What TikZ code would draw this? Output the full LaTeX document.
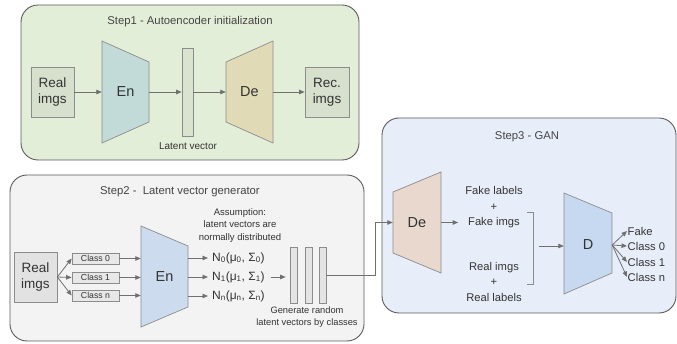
\documentclass[tikz,border=0pt]{standalone}
\usepackage{fontspec}
\setmainfont{Liberation Sans}
\usetikzlibrary{arrows.meta,calc}
\definecolor{txt}{HTML}{333333}
\definecolor{ttl}{HTML}{444444}
\definecolor{arrc}{HTML}{707070}
\definecolor{boxc}{HTML}{8C8C8C}
\definecolor{stagec}{HTML}{5A5A5A}
\definecolor{sonec}{HTML}{E3EED9}
\definecolor{stwoc}{HTML}{F3F3F3}
\definecolor{sthreec}{HTML}{E8EEF9}
\definecolor{greenbox}{HTML}{D6E0CD}
\definecolor{enonec}{HTML}{C2DBD8}
\definecolor{deonec}{HTML}{E0DBB6}
\definecolor{latc}{HTML}{D9E3D0}
\definecolor{greybox}{HTML}{E2E2E2}
\definecolor{classc}{HTML}{E8E8E8}
\definecolor{entwoc}{HTML}{CCDCEE}
\definecolor{barc}{HTML}{E4E4E4}
\definecolor{dethreec}{HTML}{E8D8CD}
\definecolor{dc}{HTML}{C6D9F0}
\begin{document}
\begin{tikzpicture}[x=1pt,y=-1pt,
  arr/.style={draw=arrc, line width=0.8pt, -{Triangle[length=5.5pt,width=4.5pt]}},
  box/.style={draw=boxc, line width=0.7pt, inner sep=0pt, align=center, text=txt},
  stage/.style={draw=stagec, line width=0.9pt, rounded corners=17pt},
  trap/.style={draw=boxc, line width=0.7pt},
  lbl/.style={inner sep=0pt, text=txt, align=center},
  ttlstyle/.style={inner sep=0pt, text=ttl, font=\fontsize{11.3}{13.5}\selectfont},
  big/.style={font=\fontsize{13.5}{16}\selectfont},
  huge/.style={font=\fontsize{14.5}{17}\selectfont},
  mid/.style={font=\fontsize{11.2}{15.5}\selectfont},
  small/.style={font=\fontsize{9.5}{12.5}\selectfont}]
\useasboundingbox (0,0) rectangle (677,344);

% ---------------- Step 1 ----------------
\draw[stage, fill=sonec] (21,5) rectangle (359,160);
\node[ttlstyle] (t1) at (190,22) {Step1 - Autoencoder initialization};
\node[box, big, fill=greenbox, minimum width=43pt, minimum height=50pt] (r1) at (52.5,92) {Real\\imgs};
\draw[trap, fill=enonec] (102,41) -- (149,62) -- (149,122) -- (102,143) -- cycle;
\node[lbl, huge, minimum width=47pt, minimum height=102pt] (en1) at (125.5,92) {En};
\node[box, fill=latc, minimum width=11pt, minimum height=88pt] (lv) at (187.5,92) {};
\node[lbl, font=\fontsize{10}{12}\selectfont] (lvl) at (188,146) {Latent vector};
\draw[trap, fill=deonec] (226,62) -- (273,41) -- (273,143) -- (226,122) -- cycle;
\node[lbl, huge, minimum width=47pt, minimum height=102pt] (de1) at (249.5,92) {De};
\node[box, big, fill=greenbox, minimum width=44pt, minimum height=50pt] (rec) at (327,92) {Rec.\\imgs};
\draw[arr] (r1.east) -- (en1.west);
\draw[arr] (en1.east) -- (lv.west);
\draw[arr] (lv.east) -- (de1.west);
\draw[arr] (de1.east) -- (rec.west);

% ---------------- Step 2 ----------------
\draw[stage, fill=stwoc] (10,175) rectangle (364,341);
\node[ttlstyle, anchor=west] (t2) at (100,192) {Step2 -\ \ Latent vector generator};
\node[box, big, fill=greybox, minimum width=43pt, minimum height=50pt] (r2) at (35.5,277) {Real\\imgs};
\node[box, fill=classc, minimum width=47pt, minimum height=11pt, font=\fontsize{8.7}{10}\selectfont] (c0) at (95.5,258.5) {Class 0};
\node[box, fill=classc, minimum width=47pt, minimum height=11pt, font=\fontsize{8.7}{10}\selectfont] (c1) at (95.5,277.5) {Class 1};
\node[box, fill=classc, minimum width=47pt, minimum height=11pt, font=\fontsize{8.7}{10}\selectfont] (cn) at (95.5,295.5) {Class n};
\draw[arr] (r2.east) -- (c0.west);
\draw[arr] (r2.east) -- (c1.west);
\draw[arr] (r2.east) -- (cn.west);
\draw[trap, fill=entwoc] (141,226) -- (188,246) -- (188,307) -- (141,327) -- cycle;
\node[lbl, huge, minimum width=47pt, minimum height=101pt] (en2) at (164.5,276.5) {En};
\draw[arr] (c0.east) -- (c0.east -| en2.west);
\draw[arr] (c1.east) -- (c1.east -| en2.west);
\draw[arr] (cn.east) -- (cn.east -| en2.west);
\node[lbl, small] (assm) at (240,225.5) {Assumption:\\latent vectors are\\normally distributed};
\node[lbl, anchor=west, font=\fontsize{12}{14}\selectfont] (n0) at (212,258) {N\textsubscript{0}(μ\textsubscript{0}, Σ\textsubscript{0})};
\node[lbl, anchor=west, font=\fontsize{12}{14}\selectfont] (n1) at (212,277) {N\textsubscript{1}(μ\textsubscript{1}, Σ\textsubscript{1})};
\node[lbl, anchor=west, font=\fontsize{12}{14}\selectfont] (nn) at (212,296) {N\textsubscript{n}(μ\textsubscript{n}, Σ\textsubscript{n})};
\draw[arr, shorten >=4pt] (n0.west -| en2.east) -- (n0.west);
\draw[arr, shorten >=4pt] (n1.west -| en2.east) -- (n1.west);
\draw[arr, shorten >=4pt] (nn.west -| en2.east) -- (nn.west);
\node[box, fill=barc, minimum width=7pt, minimum height=56pt] (b1) at (293.5,275) {};
\node[box, fill=barc, minimum width=7pt, minimum height=56pt] (b2) at (308.5,275) {};
\node[box, fill=barc, minimum width=7pt, minimum height=56pt] (b3) at (322.5,275) {};
\draw[arr, shorten <=6pt, shorten >=4pt] (n1.east) -- (n1.east -| b1.west);
\node[lbl, font=\fontsize{9.3}{12}\selectfont] (gen) at (307,317) {Generate random\\latent vectors by classes};

% ---------------- Step 3 ----------------
\draw[stage, fill=sthreec] (382,118) rectangle (676,313);
\node[ttlstyle] (t3) at (527,137) {Step3 - GAN};
\draw[trap, fill=dethreec] (393,192) -- (441,172) -- (441,273) -- (393,253) -- cycle;
\node[lbl, huge, minimum width=48pt, minimum height=101pt] (de3) at (417,222.5) {De};
\draw[arr] (b3.east) -- ++(49,0) |- (de3.west);
\node[lbl, mid] (fake) at (494,207.5) {Fake labels\\+\\Fake imgs};
\node[lbl, mid] (real) at (494,281.5) {Real imgs\\+\\Real labels};
\draw[arr, shorten >=7pt] (de3.east) -- (de3.east -| fake.west);
\draw[draw=boxc, line width=0.8pt] (527,212) -- (533,212) -- (533,284) -- (527,284);
\coordinate (bk) at (533,246);
\draw[trap, fill=dc] (564,193) -- (612,213) -- (612,273) -- (564,294) -- cycle;
\node[lbl, huge, minimum width=48pt, minimum height=101pt] (D) at (588,245) {D};
\draw[arr, shorten <=6pt] (bk) -- (bk -| D.west);
\node[lbl, mid, anchor=west, inner sep=0.5pt] (o0) at (627,231) {Fake};
\node[lbl, mid, anchor=west, inner sep=0.5pt] (o1) at (627,246) {Class 0};
\node[lbl, mid, anchor=west, inner sep=0.5pt] (o2) at (627,262) {Class 1};
\node[lbl, mid, anchor=west, inner sep=0.5pt] (o3) at (627,277) {Class n};
\draw[arr] (D.east) -- (o0.west);
\draw[arr] (D.east) -- (o1.west);
\draw[arr] (D.east) -- (o2.west);
\draw[arr] (D.east) -- (o3.west);
\end{tikzpicture}
\end{document}
